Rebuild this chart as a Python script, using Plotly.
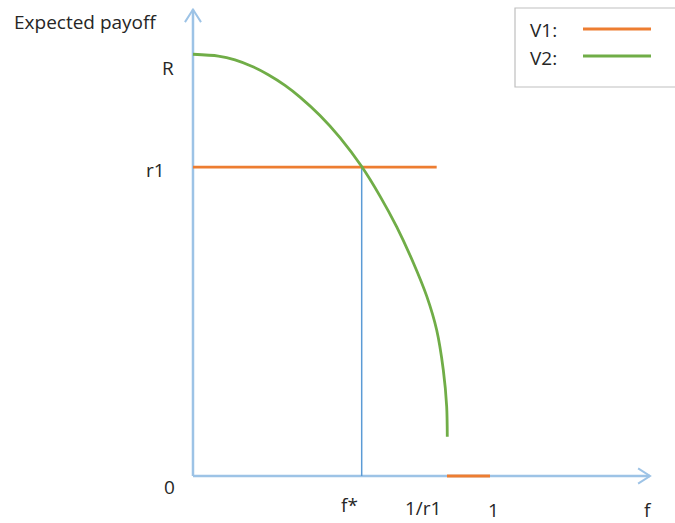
import plotly.graph_objects as go

# ---- data (diagram units: f on x, expected payoff on y; R = 1, f=1 at "1") ----
f_curve = [0.0, 0.0852, 0.1414, 0.1976, 0.2535, 0.3098, 0.3603, 0.4276, 0.4949,
           0.5680, 0.6296, 0.6859, 0.7418, 0.7869, 0.8205, 0.8428, 0.8542, 0.8562]
v2_payoff = [1.0017, 0.9974, 0.9884, 0.9732, 0.9531, 0.9278, 0.9000, 0.8563, 0.8038,
             0.7350, 0.6648, 0.5916, 0.5066, 0.4272, 0.3468, 0.2518, 0.1646, 0.0933]

r1 = 0.7335
f_star = 0.5680
v1_flat_end = 0.8205
v1_seg_f = [0.8552, 1.0]
v1_seg_payoff = [0.0, 0.0]

x_axis_end = 1.5387
y_axis_end = 1.108

x_tick_x = [-0.0808, 0.5286, 0.7744, 1.0101, 1.532]
x_tick_y = [-0.0261, -0.0689, -0.076, -0.0808, -0.0808]
x_tick_labels = ["0", "f*", "1/r1", "1", "f"]
y_tick_x = [-0.0842, -0.1246]
y_tick_y = [0.9691, 0.7268]
y_tick_labels = ["R", "r1"]
y_title = "Expected payoff"

legend_names = ["V1:", "V2:"]
COL_V1 = "#ED7D31"
COL_V2 = "#70AD47"
COL_AXIS = "#9DC3E6"
COL_GUIDE = "#5B9BD5"
TXT = "#262626"
FONT = "Open Sans"
FS = 19

fig = go.Figure()

# axes with arrow chevrons
fig.add_trace(go.Scatter(x=[0, x_axis_end], y=[0, 0], mode="lines",
                         line=dict(color=COL_AXIS, width=2.5), hoverinfo="skip"))
fig.add_trace(go.Scatter(x=[0, 0], y=[0, y_axis_end], mode="lines",
                         line=dict(color=COL_AXIS, width=2.5), hoverinfo="skip"))
fig.add_trace(go.Scatter(x=[x_axis_end - 0.04, x_axis_end, x_axis_end - 0.04],
                         y=[0.018, 0, -0.018], mode="lines",
                         line=dict(color=COL_AXIS, width=2), hoverinfo="skip"))
fig.add_trace(go.Scatter(x=[-0.027, 0, 0.027],
                         y=[y_axis_end - 0.03, y_axis_end, y_axis_end - 0.03], mode="lines",
                         line=dict(color=COL_AXIS, width=2), hoverinfo="skip"))

# f* guide
fig.add_trace(go.Scatter(x=[f_star, f_star], y=[0, r1], mode="lines",
                         line=dict(color=COL_GUIDE, width=1.5), hoverinfo="skip"))

# V1
fig.add_trace(go.Scatter(x=[0, v1_flat_end], y=[r1, r1], mode="lines",
                         line=dict(color=COL_V1, width=2.8), hoverinfo="skip"))
fig.add_trace(go.Scatter(x=v1_seg_f, y=v1_seg_payoff, mode="lines",
                         line=dict(color=COL_V1, width=2.8), hoverinfo="skip"))

# V2
fig.add_trace(go.Scatter(x=f_curve, y=v2_payoff, mode="lines", line_shape="spline",
                         line=dict(color=COL_V2, width=2.8, smoothing=0.8), hoverinfo="skip"))

ann = []
for xv, yv, t in zip(x_tick_x, x_tick_y, x_tick_labels):
    ann.append(dict(x=xv, y=yv, text=t, showarrow=False, xref="x", yref="y",
                    xanchor="center", yanchor="middle",
                    font=dict(family=FONT, size=FS, color=TXT)))
for xv, yv, t in zip(y_tick_x, y_tick_y, y_tick_labels):
    ann.append(dict(x=xv, y=yv, text=t, showarrow=False, xref="x", yref="y",
                    xanchor="center", yanchor="middle",
                    font=dict(family=FONT, size=FS, color=TXT)))
ann.append(dict(x=-0.6094, y=1.0784, text=y_title, showarrow=False,
                xref="x", yref="y", xanchor="left", yanchor="middle",
                font=dict(family=FONT, size=FS, color=TXT)))

# legend (text left of line)
leg_text_y = [30, 58]
leg_line_y = [29, 56]
shapes = [dict(type="rect", xref="paper", yref="paper",
               x0=515 / 675, x1=676 / 675, y0=1 - 87 / 523, y1=1 - 8 / 523,
               line=dict(color="#BFBFBF", width=1.2), fillcolor="rgba(0,0,0,0)")]
for name, ty, ly, col in zip(legend_names, leg_text_y, leg_line_y, [COL_V1, COL_V2]):
    ann.append(dict(x=528 / 675, y=1 - ty / 523, xref="paper", yref="paper",
                    text=name, showarrow=False, xanchor="left", yanchor="middle",
                    font=dict(family=FONT, size=FS, color=TXT)))
    shapes.append(dict(type="line", xref="paper", yref="paper",
                       x0=583 / 675, x1=651 / 675, y0=1 - ly / 523, y1=1 - ly / 523,
                       line=dict(color=col, width=2.8)))

fig.update_layout(
    width=675, height=523,
    margin=dict(l=0, r=0, t=0, b=0),
    paper_bgcolor="white", plot_bgcolor="white",
    showlegend=False,
    xaxis=dict(range=[-0.6498, 1.6229], visible=False, fixedrange=True),
    yaxis=dict(range=[-0.1116, 1.1306], visible=False, fixedrange=True),
    annotations=ann, shapes=shapes,
)

fig.write_html("out.html", config={"displayModeBar": False},
               post_script="document.body.style.margin='0';document.body.style.overflow='hidden';")
